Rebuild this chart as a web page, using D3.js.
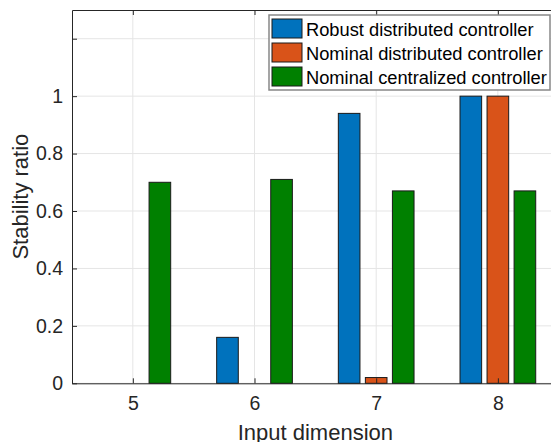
<!DOCTYPE html>
<html>
<head>
<meta charset="utf-8">
<script src="https://cdn.jsdelivr.net/npm/d3@7"></script>
<style>
    body { margin: 0; background: #fff; }
    svg { display: block; font-family: "Liberation Sans", Arial, Helvetica, sans-serif; }
</style>
</head>
<body>
<div id="chart"></div>
<script>
// data
const categories = [5, 6, 7, 8];
const seriesNames = ['Robust distributed controller', 'Nominal distributed controller', 'Nominal centralized controller'];
const robustDistributed = [0, 0.16, 0.94, 1.0];
const nominalDistributed = [0, 0, 0.02, 1.0];
const nominalCentralized = [0.70, 0.71, 0.67, 0.67];
const yTicks = [0, 0.2, 0.4, 0.6, 0.8, 1, 1.2];
const yTickLabels = ['0', '0.2', '0.4', '0.6', '0.8', '1', ''];

const seriesValues = [robustDistributed, nominalDistributed, nominalCentralized];
const colors = ['#0072BD', '#D95319', '#008000'];

const width = 551, height = 442;
const margin = { top: 10, left: 72 };
const plotW = 486.7, plotH = 373.3;

const svg = d3.select('#chart').append('svg')
    .attr('width', width)
    .attr('height', height);

const xScale = d3.scaleLinear().domain([4.5, 8.5]).range([margin.left, margin.left + plotW]);
const yScale = d3.scaleLinear().domain([0, 1.3]).range([margin.top + plotH, margin.top]);

// grouped bar layout (matlab style)
const nSeries = seriesValues.length;
const groupWidth = Math.min(0.8, nSeries / (nSeries + 1.5));
const step = groupWidth / nSeries;
const barW = step * 0.8;
const offset = i => (i - (nSeries - 1) / 2) * step;

// grid
const grid = svg.append('g').attr('class', 'grid');
grid.selectAll('.hgrid').data(yTicks).enter().append('line')
    .attr('x1', margin.left).attr('x2', margin.left + plotW)
    .attr('y1', d => yScale(d)).attr('y2', d => yScale(d))
    .attr('stroke', '#e5e5e5').attr('stroke-width', 1);
grid.selectAll('.vgrid').data(categories).enter().append('line')
    .attr('x1', d => xScale(d)).attr('x2', d => xScale(d))
    .attr('y1', margin.top).attr('y2', margin.top + plotH)
    .attr('stroke', '#e5e5e5').attr('stroke-width', 1);

// bars
seriesValues.forEach(function (vals, si) {
    const data = vals.map((v, i) => ({ c: categories[i], v: v })).filter(d => d.v > 0);
    svg.append('g').selectAll('rect')
        .data(data)
        .enter()
        .append('rect')
        .attr('x', d => xScale(d.c + offset(si) - barW / 2))
        .attr('width', d => xScale(d.c + offset(si) + barW / 2) - xScale(d.c + offset(si) - barW / 2))
        .attr('y', d => yScale(d.v))
        .attr('height', d => yScale(0) - yScale(d.v))
        .attr('fill', colors[si])
        .attr('stroke', '#1a1a1a')
        .attr('stroke-width', 1);
});

// axes (ticks pointing inward)
const axisColor = '#262626';
const xAxis = d3.axisBottom(xScale).tickValues(categories).tickFormat(d3.format('d')).tickSizeInner(-5).tickSizeOuter(0).tickPadding(13);
const yAxis = d3.axisLeft(yScale).tickValues(yTicks).tickFormat((d, i) => yTickLabels[i]).tickSizeInner(-5).tickSizeOuter(0).tickPadding(9);
const xTop = d3.axisTop(xScale).tickValues(categories).tickSizeInner(-5).tickSizeOuter(0).tickFormat('');

const xAxisLine = svg.append('g')
    .attr('transform', 'translate(0,' + (margin.top + plotH) + ')')
    .call(xAxis);
const yAxisLine = svg.append('g')
    .attr('transform', 'translate(' + margin.left + ',0)')
    .call(yAxis);
const topLine = svg.append('g')
    .attr('transform', 'translate(0,' + margin.top + ')')
    .call(xTop);

[xAxisLine, yAxisLine, topLine].forEach(function (a) {
    a.selectAll('path').attr('stroke', axisColor);
    a.selectAll('line').attr('stroke', axisColor);
    a.selectAll('text').attr('fill', axisColor).style('font-size', '19.5px').style('font-family', 'inherit');
});

// axis labels
svg.append('text')
    .attr('x', margin.left + plotW / 2)
    .attr('y', 440)
    .attr('text-anchor', 'middle')
    .attr('fill', axisColor)
    .style('font-size', '22px')
    .text('Input dimension');

svg.append('text')
    .attr('transform', 'translate(28,' + (margin.top + plotH / 2) + ') rotate(-90)')
    .attr('text-anchor', 'middle')
    .attr('fill', axisColor)
    .style('font-size', '22px')
    .text('Stability ratio');

// legend
const legend = svg.append('g').attr('transform', 'translate(269,15)');
legend.append('rect')
    .attr('x', 0).attr('y', 0)
    .attr('width', 281).attr('height', 75)
    .attr('fill', '#fff')
    .attr('stroke', '#888').attr('stroke-width', 1.5);
const items = legend.selectAll('.item').data(seriesNames).enter().append('g')
    .attr('transform', (d, i) => 'translate(3,' + (4 + i * 24) + ')');
items.append('rect')
    .attr('width', 30).attr('height', 19)
    .attr('fill', (d, i) => colors[i])
    .attr('stroke', '#1a1a1a').attr('stroke-width', 1);
items.append('text')
    .attr('x', 34).attr('y', 17)
    .attr('fill', '#000')
    .style('font-size', '18.3px')
    .text(d => d);
</script>
</body>
</html>
